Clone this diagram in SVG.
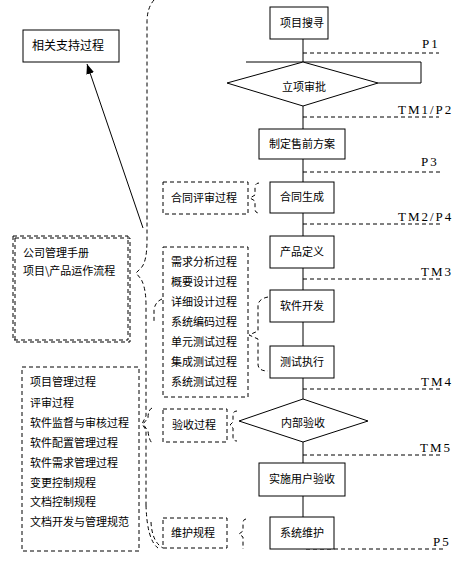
<svg xmlns="http://www.w3.org/2000/svg" width="462" height="562" viewBox="0 0 462 562">
<style>
.bx{fill:#fff;stroke:#000;stroke-width:1}
.db{fill:none;stroke:#000;stroke-width:1;stroke-dasharray:4,3}
.ln{fill:none;stroke:#000;stroke-width:1}
.t{font-family:"Noto Sans CJK SC","Noto Sans CJK TC",sans-serif;font-size:11px;fill:#000}
.c{text-anchor:middle}
.lb{font-family:"Liberation Serif",serif;font-size:13px;fill:#000;letter-spacing:2px}
</style>
<defs>
<marker id="ah" markerWidth="10" markerHeight="8" refX="10" refY="4" orient="auto" markerUnits="userSpaceOnUse">
<path d="M0,0 L10,4 L0,8 Z" fill="#000"/>
</marker>
</defs>
<rect width="462" height="562" fill="#fff"/>

<g id="connectors">
<path class="ln" d="M303,39 V62 M303,106 V129 M303,159 V182 M303,213 V236 M303,268 V290 M303,322 V346 M303,378 V399 M303,442 V463 M303,496 V517"/>
<path class="ln" d="M246,62 H421 V83 H378"/>
<path class="db" d="M303,53 H439 M303,117 H439 M303,172 H441 M303,224 H440 M303,279 H440 M303,389 H440 M303,455 H440 M306,549 H443"/>
<path class="ln" d="M143,228 L87,64" marker-end="url(#ah)"/>
<!-- big brace -->
<path class="db" d="M154,0 Q147,8 147,22 V240 Q147,262 141,268 L136,273 L141,279 Q146,288 146,305 V416 L142,424 L146,430 V505"/>
<path class="db" d="M146,505 Q147,540 158,548"/>
<path class="db" d="M151,522 Q152,542 163,548"/>
<!-- small braces -->
<path class="db" d="M152,408 Q148,410 148,418 L143,424 L148,431 Q149,441 153,444"/>
<path class="db" d="M162,299 Q155,302 154,310 V322"/>
<path class="db" d="M259,183 Q255,183 255,188 V195 L250,198 L255,201 V209 Q255,213 259,213"/>
<path class="db" d="M268,297 Q258,299 258,306 V331 L249,335 L258,339 V364 Q258,371 268,371"/>
<path class="db" d="M237,411 Q233,411 233,415 V422 L230,425 L233,428 V437 Q233,441 237,441"/>
<path class="db" d="M246,519 Q243,519 243,524 V531 L239,534 L243,537 V549"/>
</g>

<g id="n-search"><rect class="bx" x="270" y="7" width="58" height="32"/><text class="t c" x="302" y="27">项目搜寻</text></g>
<g id="n-approve"><polygon class="bx" points="303,62 378,83 303,106 227,83"/><text class="t c" x="304" y="91">立项审批</text></g>
<g id="n-presale"><rect class="bx" x="259" y="129" width="86" height="30"/><text class="t c" x="302" y="148">制定售前方案</text></g>
<g id="n-contract"><rect class="bx" x="270" y="182" width="64" height="31"/><text class="t c" x="302" y="201">合同生成</text></g>
<g id="n-define"><rect class="bx" x="270" y="236" width="64" height="32"/><text class="t c" x="302" y="256">产品定义</text></g>
<g id="n-dev"><rect class="bx" x="270" y="290" width="64" height="32"/><text class="t c" x="302" y="310">软件开发</text></g>
<g id="n-test"><rect class="bx" x="270" y="346" width="64" height="32"/><text class="t c" x="302" y="366">测试执行</text></g>
<g id="n-accept"><polygon class="bx" points="303,399 368,421 303,442 239,421"/><text class="t c" x="303" y="427">内部验收</text></g>
<g id="n-useraccept"><rect class="bx" x="259" y="463" width="86" height="33"/><text class="t c" x="302" y="483">实施用户验收</text></g>
<g id="n-maint"><rect class="bx" x="270" y="517" width="64" height="32"/><text class="t c" x="302" y="537">系统维护</text></g>

<g id="milestones">
<text class="lb" x="422" y="48">P1</text>
<text class="lb" x="398" y="114">TM1/P2</text>
<text class="lb" x="421" y="166">P3</text>
<text class="lb" x="398" y="221">TM2/P4</text>
<text class="lb" x="421" y="276">TM3</text>
<text class="lb" x="421" y="386">TM4</text>
<text class="lb" x="420" y="452">TM5</text>
<text class="lb" x="433" y="546">P5</text>
</g>

<g id="n-support"><rect class="bx" x="23" y="30" width="96" height="32"/><text class="t" x="32" y="50" style="font-size:12px">相关支持过程</text></g>

<g id="n-manual">
<rect class="db" x="13" y="236" width="115" height="104"/>
<rect class="db" x="15" y="238" width="115" height="104"/>
<text class="t" x="23" y="257">公司管理手册</text>
<text class="t" x="23" y="275">项目\产品运作流程</text>
</g>

<g id="n-review"><rect class="db" x="163" y="182" width="85" height="32"/><text class="t" x="171" y="202">合同评审过程</text></g>

<g id="n-dev-procs">
<rect class="db" x="163" y="247" width="85" height="150"/>
<text class="t" x="171" y="266">需求分析过程</text>
<text class="t" x="171" y="286">概要设计过程</text>
<text class="t" x="171" y="306">详细设计过程</text>
<text class="t" x="171" y="326">系统编码过程</text>
<text class="t" x="171" y="346">单元测试过程</text>
<text class="t" x="171" y="366">集成测试过程</text>
<text class="t" x="171" y="386">系统测试过程</text>
</g>

<g id="n-acceptproc"><rect class="db" x="163" y="409" width="64" height="33"/><text class="t" x="172" y="429">验收过程</text></g>
<g id="n-maintproc"><rect class="db" x="163" y="518" width="64" height="30"/><text class="t" x="171" y="537">维护规程</text></g>

<g id="n-mgmt">
<rect class="db" x="22" y="367" width="117" height="184"/>
<text class="t" x="30" y="386">项目管理过程</text>
<text class="t" x="30" y="407">评审过程</text>
<text class="t" x="30" y="427">软件监督与审核过程</text>
<text class="t" x="30" y="447">软件配置管理过程</text>
<text class="t" x="30" y="467">软件需求管理过程</text>
<text class="t" x="30" y="487">变更控制规程</text>
<text class="t" x="30" y="506">文档控制规程</text>
<text class="t" x="30" y="526">文档开发与管理规范</text>
</g>
</svg>
